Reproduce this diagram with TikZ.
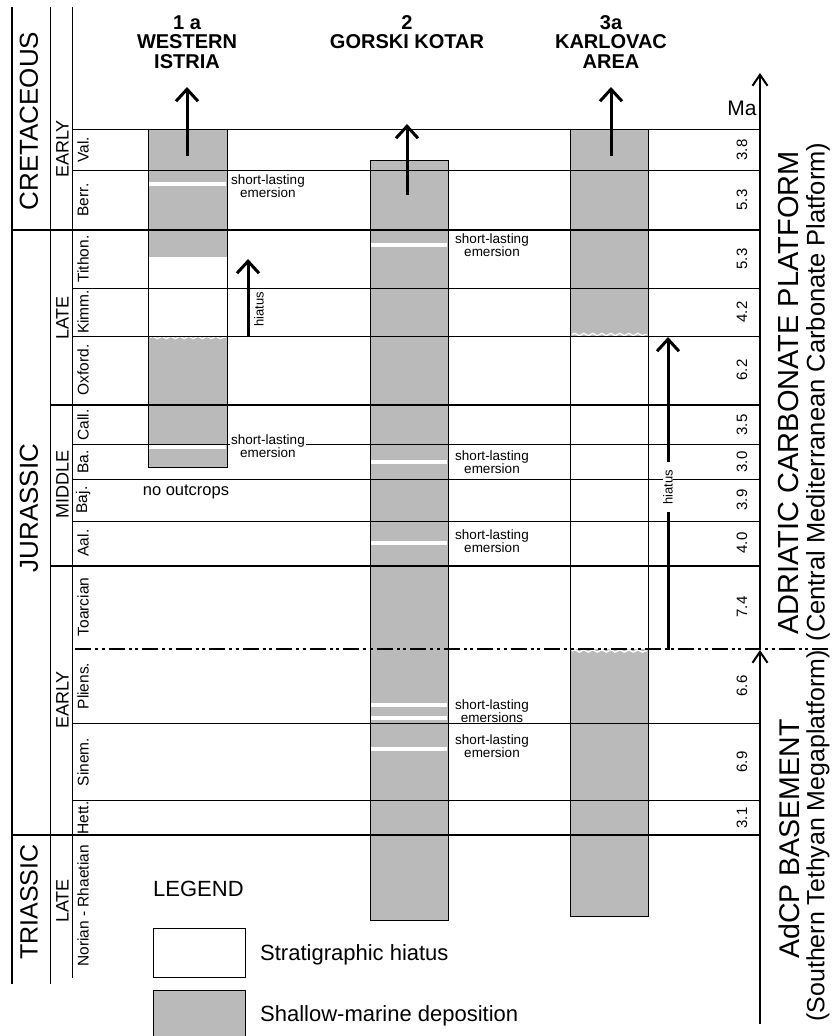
\documentclass[tikz,border=0pt]{standalone}
\usepackage{fontspec}
\setmainfont{Liberation Sans}
\usetikzlibrary{arrows.meta,decorations.pathmorphing}
\definecolor{colgray}{gray}{0.73}
\newcommand{\fsz}[2]{\fontsize{#1}{#2}\selectfont}
\begin{document}
\begin{tikzpicture}[x=1pt,y=-1pt,
  gridline/.style={line width=0.9pt},
  epochline/.style={line width=1.3pt},
  periodline/.style={line width=2.2pt},
  colbox/.style={draw=black,line width=0.9pt},
  emer/.style={white,line width=3.6pt},
  wavy/.style={white,line width=1.3pt,decorate,decoration={snake,amplitude=1.2pt,segment length=9pt}},
  barrow/.style={line width=3pt,-{Straight Barb[length=12pt,width=22pt]}},
  axarrow/.style={line width=2pt,-{Straight Barb[length=11pt,width=15pt]}},
  vlab/.style={rotate=90,inner sep=0pt},
  stage/.style={vlab,font=\fsz{15.5}{17}},
  epoch/.style={vlab,font=\fsz{18}{20}},
  period/.style={vlab,font=\fsz{26}{28}},
  numlab/.style={vlab,font=\fsz{15}{17}},
  emlab/.style={align=center,fill=white,inner xsep=1pt,inner ysep=0pt,font=\fsz{13.5}{11.5}},
  header/.style={align=center,inner sep=0pt,font=\bfseries\fsz{20}{19.5}},
  legtext/.style={anchor=west,inner sep=0pt,font=\fsz{22}{24}}
]
\useasboundingbox (0,0) rectangle (832,1036);

% ---- gray columns
\fill[colgray] (148,129) rectangle (227,257);
\fill[colgray] (148,336) rectangle (227,467);
\fill[colgray] (370,160) rectangle (448,920);
\fill[colgray] (570,129) rectangle (648,336);
\fill[colgray] (570,649) rectangle (648,916);
\draw[wavy] (150,337.5) -- (226,337.5);
\draw[wavy] (572,334.5) -- (647,334.5);
\draw[wavy] (572,651) -- (647,651);

% ---- left vertical frame lines
\draw[line width=2.5pt] (12,7) -- (12,984);
\draw[gridline] (50,7) -- (50,984);
\draw[gridline] (72,7) -- (72,978);

% ---- horizontal lines
\foreach \yy in {129,170,288,336,444,479,521,723,800}
  \draw[gridline] (72,\yy) -- (760,\yy);
\foreach \yy in {405,566}
  \draw[epochline] (50,\yy) -- (760,\yy);
\foreach \yy in {230,835}
  \draw[periodline] (11,\yy) -- (760,\yy);

% ---- column outlines
\draw[colbox] (148,129) rectangle (227,467);
\draw[colbox] (370,160) rectangle (448,920);
\draw[colbox] (570,129) rectangle (648,916);

% ---- short-lasting emersions (white bands)
\draw[emer] (149,184) -- (226,184);
\draw[emer] (149,447) -- (226,447);
\foreach \yy in {245,462,543,705,718,749}
  \draw[emer] (371,\yy) -- (447,\yy);

% ---- dash-dot boundary
\draw[line width=2.6pt,dash pattern=on 16pt off 4pt on 3pt off 3.5pt on 3pt off 4pt] (75,649) -- (832,649);

% ---- right time axis
\coordinate (axbot) at (760,1024);
\coordinate (axmid) at (760,650);
\coordinate (axmid2) at (760,649);
\coordinate (axtop) at (760,73);
\draw[axarrow] (axbot) -- (axmid);
\draw[axarrow] (axmid2) -- (axtop);
\node[inner sep=0pt,font=\fsz{21}{23}] (ma) at (742,108) {Ma};

% ---- column arrows
\coordinate (a1s) at (187,156); \coordinate (a1e) at (187,87);
\coordinate (a2s) at (407,195); \coordinate (a2e) at (407,124);
\coordinate (a3s) at (611,156); \coordinate (a3e) at (611,87);
\draw[barrow] (a1s) -- (a1e);
\draw[barrow] (a2s) -- (a2e);
\draw[barrow] (a3s) -- (a3e);

% ---- hiatus arrows
\coordinate (h1s) at (248,336); \coordinate (h1e) at (248,259);
\draw[barrow] (h1s) -- (h1e);
\node[vlab,font=\fsz{13}{14}] (h1lab) at (259,309) {hiatus};
\coordinate (h3s) at (668,650); \coordinate (h3e) at (668,337);
\draw[barrow] (h3s) -- (h3e);
\node[vlab,fill=white,inner xsep=8pt,font=\fsz{13}{14}] (h3lab) at (668,487) {hiatus};

% ---- headers
\node[header] (hd1) at (187,42) {1 a\\WESTERN\\ISTRIA};
\node[header] (hd2) at (407,32) {2\\GORSKI KOTAR};
\node[header] (hd3) at (611,42) {3a\\KARLOVAC\\AREA};

% ---- left labels
\node[period] (p1) at (29,121) {CRETACEOUS};
\node[period] (p2) at (29,508) {JURASSIC};
\node[period,font=\fsz{25}{27}] (p3) at (29,902) {TRIASSIC};
\node[epoch] (e1) at (62.5,149) {EARLY};
\node[epoch] (e2) at (62.5,318) {LATE};
\node[epoch] (e3) at (62.5,484) {MIDDLE};
\node[epoch] (e4) at (62.5,700) {EARLY};
\node[epoch] (e5) at (62.5,901) {LATE};
\node[stage] (s1) at (83,150) {Val.};
\node[stage] (s2) at (83,200) {Berr.};
\node[stage] (s3) at (83,259) {Tithon.};
\node[stage] (s4) at (83,312) {Kimm.};
\node[stage] (s5) at (83,370) {Oxford.};
\node[stage] (s6) at (83,425) {Call.};
\node[stage] (s7) at (83,462) {Ba.};
\node[stage] (s8) at (83,500) {Baj.};
\node[stage] (s9) at (83,543) {Aal.};
\node[stage] (s10) at (83,607) {Toarcian};
\node[stage] (s11) at (83,686) {Pliens.};
\node[stage] (s12) at (83,762) {Sinem.};
\node[stage] (s13) at (83,818) {Hett.};
\node[stage] (s14) at (83,906) {Norian - Rhaetian};

% ---- durations
\foreach \yy/\vv [count=\i] in {150/3.8,200/5.3,259/5.3,312/4.2,370/6.2,425/3.5,462/3.0,500/3.9,543/4.0,607/7.4,686/6.6,762/6.9,818/3.1}
  \node[numlab] (n\i) at (742,\yy) {\vv};

% ---- right labels
\node[vlab,font=\fsz{29}{31}] (r1) at (789,393) {ADRIATIC CARBONATE PLATFORM};
\node[vlab,font=\fsz{25.5}{28}] (r2) at (818,392) {(Central Mediterranean Carbonate Platform)};
\node[vlab,font=\fsz{28.5}{30}] (r3) at (789,839) {AdCP BASEMENT};
\node[vlab,font=\fsz{24.9}{27}] (r4) at (818,836) {(Southern Tethyan Megaplatform)};

% ---- emersion labels
\node[emlab] (em1) at (268,186) {short-lasting\\emersion};
\node[emlab] (em2) at (268,446) {short-lasting\\emersion};
\node[emlab] (em3) at (492,245) {short-lasting\\emersion};
\node[emlab] (em4) at (492,462) {short-lasting\\emersion};
\node[emlab] (em5) at (492,541) {short-lasting\\emersion};
\node[emlab] (em6) at (492,711) {short-lasting\\emersions};
\node[emlab] (em7) at (492,746) {short-lasting\\emersion};
\node[inner sep=0pt,font=\fsz{16.5}{18}] (noout) at (186,492) {no outcrops};

% ---- legend
\node[legtext] (leg) at (153,889) {LEGEND};
\draw[gridline] (153,928) rectangle (245,977);
\node[legtext] (leg1) at (260,955) {Stratigraphic hiatus};
\fill[colgray] (153,990) rectangle (245,1036);
\draw[gridline] (153,1036) -- (153,990) -- (245,990) -- (245,1036);
\node[legtext] (leg2) at (260,1016) {Shallow-marine deposition};
\end{tikzpicture}
\end{document}
